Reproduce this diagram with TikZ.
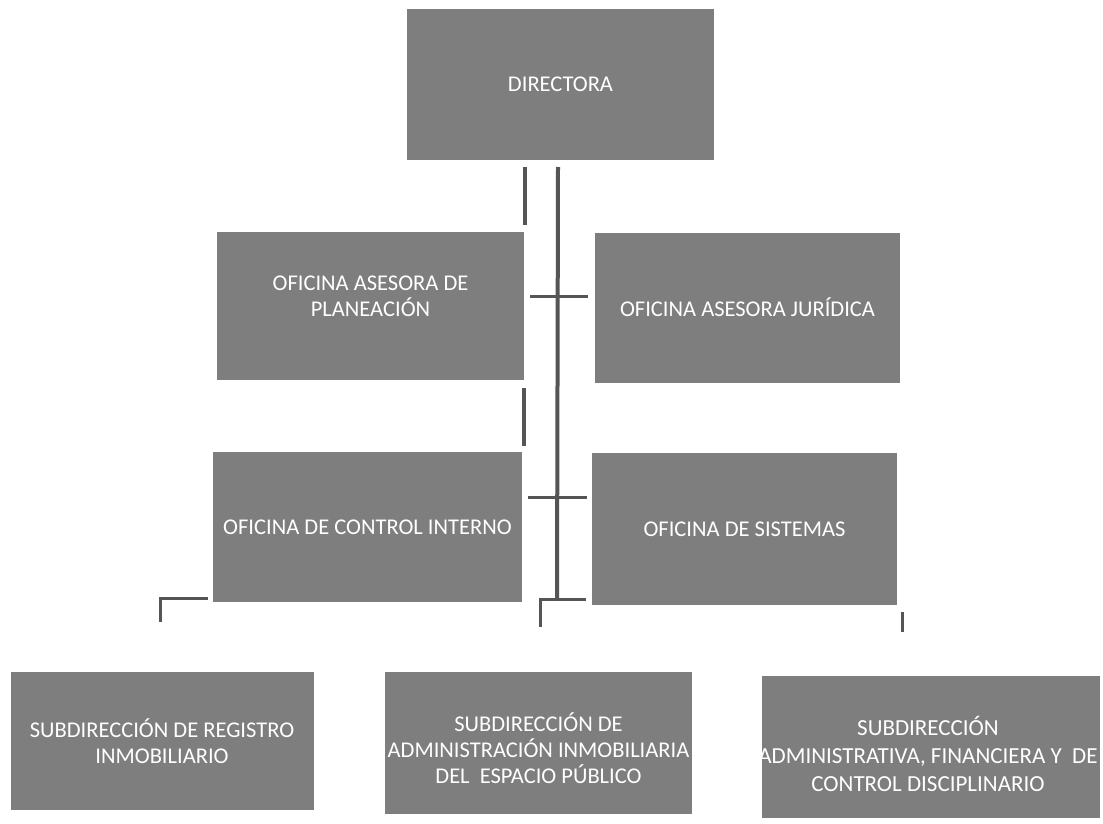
\documentclass[tikz,border=0pt]{standalone}
\usepackage{fontspec}
\setmainfont{Carlito}
\definecolor{boxgray}{RGB}{126,126,126}
\definecolor{linegray}{RGB}{85,85,85}
\begin{document}
\begin{tikzpicture}[x=1pt,y=-1pt,
  orgbox/.style={rectangle,fill=boxgray,draw=none,inner sep=0pt},
  orgtext/.style={text=white,align=center,inner sep=0pt,
    font=\fontsize{22.5}{26}\selectfont},
  conn/.style={draw=linegray,line width=4pt}]
\useasboundingbox (0,0) rectangle (1103,824);
\fill[white] (0,0) rectangle (1103,824);
% boxes
\node[orgbox,minimum width=307pt,minimum height=151pt] (dir) at (560.5,84.5) {};
\node[orgtext] (dirt) at (dir.center) {DIRECTORA};
\node[orgbox,minimum width=307pt,minimum height=148pt] (plan) at (370.5,306) {};
\node[orgtext] (plant) at ([yshift=10pt]plan.center) {OFICINA ASESORA DE\\PLANEACIÓN};
\node[orgbox,minimum width=305pt,minimum height=150pt] (jur) at (747.5,307.5) {};
\node[orgtext] (jurt) at (jur.center) {OFICINA ASESORA JURÍDICA};
\node[orgbox,minimum width=309pt,minimum height=150pt] (ci) at (367.5,527) {};
\node[orgtext] (cit) at (ci.center) {OFICINA DE CONTROL INTERNO};
\node[orgbox,minimum width=305pt,minimum height=152pt] (sis) at (744.5,529) {};
\node[orgtext] (sist) at (sis.center) {OFICINA DE SISTEMAS};
\node[orgbox,minimum width=303pt,minimum height=138pt] (reg) at (162,741) {};
\node[orgtext] (regt) at (reg.center) {SUBDIRECCIÓN DE REGISTRO\\INMOBILIARIO};
\node[orgbox,minimum width=307pt,minimum height=142pt] (adm) at (538.5,743) {};
\node[orgtext] (admt) at ([yshift=-5pt]adm.center) {SUBDIRECCIÓN DE\\ADMINISTRACIÓN INMOBILIARIA\\DEL\ \ ESPACIO PÚBLICO};
\node[orgbox,minimum width=338pt,minimum height=142pt] (fin) at (931,747) {};
\node[orgtext,font=\fontsize{23}{28}\selectfont] (fint) at ([xshift=-3pt,yshift=-7pt]fin.center) {SUBDIRECCIÓN\\ADMINISTRATIVA, FINANCIERA Y\ \ DE\\CONTROL DISCIPLINARIO};
% connector fragments
\coordinate (s1a) at (525,167); \coordinate (s1b) at (525,225);
\coordinate (ma) at (558,167); \coordinate (mb) at (557,600);
\coordinate (t1a) at (530,296); \coordinate (t1b) at (588,296);
\coordinate (t2a) at (528,497); \coordinate (t2b) at (587,497);
\coordinate (s2a) at (524,388); \coordinate (s2b) at (524,446);
\coordinate (mla) at (586,599); \coordinate (mlc) at (540,599); \coordinate (mlb) at (540,627);
\coordinate (lla) at (208,598); \coordinate (llc) at (160,598); \coordinate (llb) at (160,622);
\coordinate (rta) at (902,612); \coordinate (rtb) at (902,632);
\draw[conn] (s1a) -- (s1b);
\draw[conn] (ma) -- (mb);
\draw[conn,line width=3pt] (t1a) -- (t1b);
\draw[conn,line width=3pt] (t2a) -- (t2b);
\draw[conn] (s2a) -- (s2b);
\draw[conn,line width=3pt] (mla) -- (mlc) -- (mlb);
\draw[conn,line width=3pt] (lla) -- (llc) -- (llb);
\draw[conn,line width=3pt] (rta) -- (rtb);
\end{tikzpicture}
\end{document}
